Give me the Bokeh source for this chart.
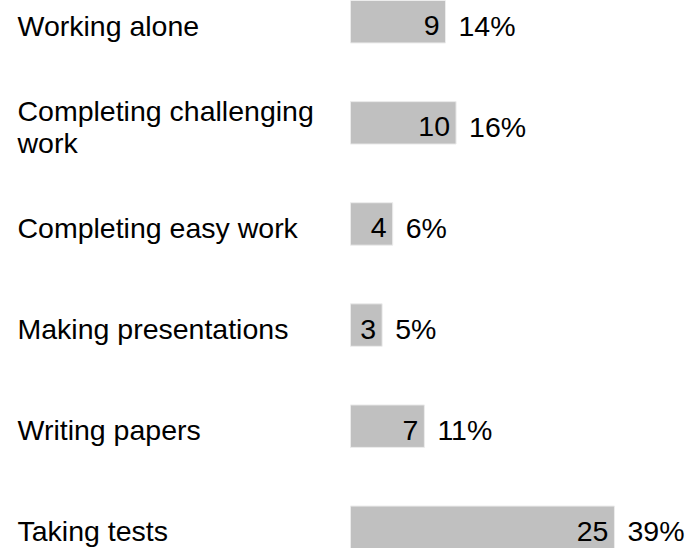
from bokeh.plotting import figure
from bokeh.models import ColumnDataSource, Range1d
from bokeh.core.properties import value
from bokeh.embed import file_html
from bokeh.resources import INLINE

categories = ["Working alone", "Completing challenging\nwork", "Completing easy work",
              "Making presentations", "Writing papers", "Taking tests"]
counts = [9, 10, 4, 3, 7, 25]
percents = [14, 16, 6, 5, 11, 39]

rows = list(range(len(categories)))
src = ColumnDataSource(dict(
    y=rows,
    cat=categories,
    count=counts,
    count_txt=[str(c) for c in counts],
    pct_txt=[f"{p}%" for p in percents],
))

X_START, X_END = -33.14, 32.2
p = figure(width=690, height=548, output_backend="svg", toolbar_location=None,
           x_range=Range1d(X_START, X_END), y_range=Range1d(5.21, -0.21),
           x_axis_location=None, y_axis_location=None, min_border=0)
p.outline_line_color = None
p.xgrid.visible = False
p.ygrid.visible = False
p.background_fill_color = "white"

FONT = value("Liberation Sans")
FS = "28.5px"

p.hbar(y="y", left=0, right="count", height=0.42, source=src,
       fill_color="#c0c0c0", line_color="#ececec", line_width=1)

p.text(x=X_START, y="y", text="cat", source=src, x_offset=17, y_offset=4,
       text_font=FONT, text_font_size=FS, text_color="black",
       text_align="left", text_baseline="middle", text_line_height=0.98)

p.text(x="count", y="y", text="count_txt", source=src, x_offset=-6, y_offset=4,
       text_font=FONT, text_font_size=FS, text_color="black",
       text_align="right", text_baseline="middle")

p.text(x="count", y="y", text="pct_txt", source=src, x_offset=13, y_offset=4,
       text_font=FONT, text_font_size=FS, text_color="black",
       text_align="left", text_baseline="middle")

open("out.html", "w").write(file_html(p, INLINE))
